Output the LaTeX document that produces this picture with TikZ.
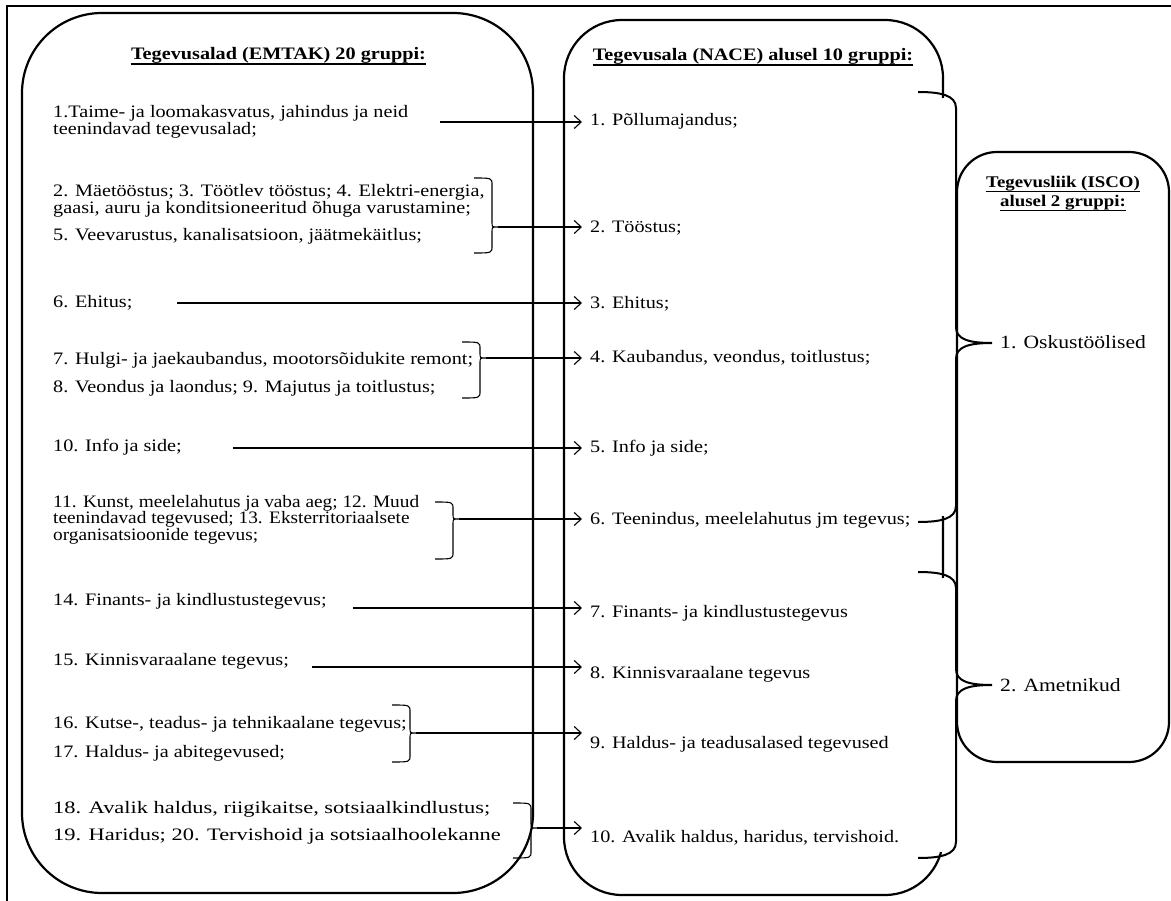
\documentclass[tikz,border=0pt]{standalone}
\usepackage{graphicx}
\usepackage{fontspec}
\setmainfont{Liberation Serif}[FakeStretch=1.155]
\usetikzlibrary{arrows.meta}
\newcommand\mybrk[5]{% name, x, top, tick, bottom
  \draw[brk] (#2-18,#3) .. controls (#2,#3) .. (#2,#3+7) -- (#2,#4-5)
    .. controls (#2,#4) .. (#2+6,#4) coordinate (#1)
    .. controls (#2,#4) .. (#2,#4+5) -- (#2,#5-7) .. controls (#2,#5) .. (#2-18,#5);}
\newcommand\mybrace[4]{% top, tip, bottom, name of tip
  \draw[bigbrace] (918,#1) .. controls (940,#1) and (956,#1+3) .. (956,#1+16) -- (956,#2-16)
    .. controls (956,#2-4) and (968,#2) .. (992,#2) coordinate (#4)
    .. controls (968,#2) and (956,#2+4) .. (956,#2+16) -- (956,#3-16)
    .. controls (956,#3-3) and (940,#3) .. (918,#3);}
\begin{document}
\begin{tikzpicture}[x=1pt,y=-1pt,
  box/.style={draw, line width=2.2pt, rounded corners=#1},
  txt/.style={inner sep=0pt, anchor=base west, font=\fontsize{17.5}{16.5}\selectfont},
  mid/.style={inner xsep=8pt, inner ysep=0pt, anchor=base west, font=\fontsize{17.5}{16.5}\selectfont},
  head/.style={inner sep=0pt, anchor=base, font=\bfseries\fontsize{17.5}{16.5}\selectfont},
  headsm/.style={inner sep=0pt, anchor=base, font=\bfseries\fontsize{16.3}{16}\selectfont},
  big/.style={inner sep=0pt, anchor=base west, font=\fontsize{18.7}{20}\selectfont},
  arr/.style={line width=1.1pt, -{Straight Barb[length=7pt,width=13pt,line width=1.1pt]}},
  brk/.style={line width=1.1pt},
  bigbrace/.style={line width=2pt},
  uline/.style={line width=1.3pt}]
\useasboundingbox (0,0) rectangle (1171,901);
% outer frame
\draw[line width=1.6pt] (1171,6) -- (7,6) -- (7,901);
% boxes
\draw[box=80pt] (22,13) rectangle (533,893);
\draw[box=58pt] (564,20) rectangle (943,895);
\fill[white] (921,98) rectangle (953,516);
\fill[white] (921,578) rectangle (953,852);
\draw[box=40pt] (957,152) rectangle (1169,762);
% headings
\node[head] (h1) at (278.5,60) {Tegevusalad (EMTAK) 20 gruppi:};
\draw[uline] ([yshift=-4pt]h1.base west) -- ([yshift=-4pt]h1.base east);
\node[head] (h2) at (753,61) {Tegevusala (NACE) alusel 10 gruppi:};
\draw[uline] ([yshift=-4pt]h2.base west) -- ([yshift=-4pt]h2.base east);
\node[headsm] (h3a) at (1063,188) {Tegevusliik (ISCO)};
\draw[uline] ([yshift=-3.5pt]h3a.base west) -- ([yshift=-3.5pt]h3a.base east);
\node[headsm] (h3b) at (1063,207) {alusel 2 gruppi:};
\draw[uline] ([yshift=-3.5pt]h3b.base west) -- ([yshift=-3.5pt]h3b.base east);
% left items
\node[txt] (L1a) at (53,118) {1.Taime- ja loomakasvatus, jahindus ja neid};
\node[txt] (L1b) at (53,134.5) {teenindavad tegevusalad;};
\node[txt] (L2a) at (53,197) {2. Mäetööstus; 3. Töötlev tööstus; 4. Elektri-energia,};
\node[txt] (L2b) at (53,213.5) {gaasi, auru ja konditsioneeritud õhuga varustamine;};
\node[txt] (L5) at (53,241) {5. Veevarustus, kanalisatsioon, jäätmekäitlus;};
\node[txt] (L6) at (53,307.5) {6. Ehitus;};
\node[txt] (L7) at (53,365) {7. Hulgi- ja jaekaubandus, mootorsõidukite remont;};
\node[txt] (L8) at (53,393) {8. Veondus ja laondus; 9. Majutus ja toitlustus;};
\node[txt] (L10) at (53,452) {10. Info ja side;};
\node[txt] (L11a) at (53,507) {\scalebox{0.955}[1]{11. Kunst, meelelahutus ja vaba aeg; 12. Muud}};
\node[txt] (L11b) at (53,523.5) {\scalebox{0.955}[1]{teenindavad tegevused; 13. Eksterritoriaalsete}};
\node[txt] (L11c) at (53,540) {\scalebox{0.955}[1]{organisatsioonide tegevus;}};
\node[txt] (L14) at (53,605.5) {14. Finants- ja kindlustustegevus;};
\node[txt] (L15) at (53,665.5) {15. Kinnisvaraalane tegevus;};
\node[txt] (L16) at (53,728.5) {16. Kutse-, teadus- ja tehnikaalane tegevus;};
\node[txt] (L17) at (53,757.5) {17. Haldus- ja abitegevused;};
\node[txt] (L18) at (53,813.5) {\scalebox{1.11}[1]{18. Avalik haldus, riigikaitse, sotsiaalkindlustus;}};
\node[txt] (L19) at (53,840.5) {\scalebox{1.11}[1]{19. Haridus; 20. Tervishoid ja sotsiaalhoolekanne}};
% middle items
\node[mid] (m1) at (582,125.5) {1. Põllumajandus;};
\node[mid] (m2) at (582,232.5) {2. Tööstus;};
\node[mid] (m3) at (582,308.5) {3. Ehitus;};
\node[mid] (m4) at (582,362.5) {4. Kaubandus, veondus, toitlustus;};
\node[mid] (m5) at (582,452.5) {5. Info ja side;};
\node[mid] (m6) at (582,524.5) {6. Teenindus, meelelahutus jm tegevus;};
\node[mid] (m7) at (582,617.5) {7. Finants- ja kindlustustegevus};
\node[mid] (m8) at (582,678.5) {8. Kinnisvaraalane tegevus};
\node[mid] (m9) at (582,748.5) {9. Haldus- ja teadusalased tegevused};
\node[mid] (m10) at (582,842.5) {10. Avalik haldus, haridus, tervishoid.};
% right items
\node[big] (o1) at (1000,349) {1. Oskustöölised};
\node[big] (o2) at (1000,691) {2. Ametnikud};
% brackets
\mybrk{t2}{492}{178}{227}{253}
\mybrk{t4}{480}{342}{358}{398}
\mybrk{t6}{453}{502}{519}{559}
\mybrk{t9}{410}{705}{733}{762}
\mybrk{t10}{531}{803}{828}{858}
% single arrows
\coordinate (s1) at (440,122);
\coordinate (s3) at (177,303);
\coordinate (s5) at (233,448);
\coordinate (s7) at (353,608);
\coordinate (s8) at (312,667);
\draw[arr] (s1) -- (s1 -| m1.west);
\draw[arr] (t2) -- (t2 -| m2.west);
\draw[arr] (s3) -- (s3 -| m3.west);
\draw[arr] (t4) -- (t4 -| m4.west);
\draw[arr] (s5) -- (s5 -| m5.west);
\draw[arr] (t6) -- (t6 -| m6.west);
\draw[arr] (s7) -- (s7 -| m7.west);
\draw[arr] (s8) -- (s8 -| m8.west);
\draw[arr] (t9) -- (t9 -| m9.west);
\draw[arr] (t10) -- (t10 -| m10.west);
% big braces
\mybrace{92}{343}{522}{b1}
\mybrace{572}{685}{858}{b2}
\end{tikzpicture}
\end{document}
